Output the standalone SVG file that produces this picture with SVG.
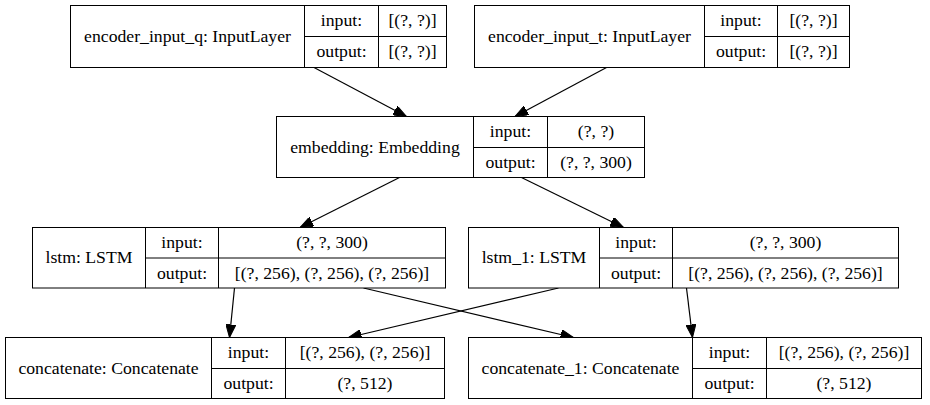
<svg xmlns="http://www.w3.org/2000/svg" width="930" height="405" viewBox="0 0 930 405">
<style>
  .box { fill: #ffffff; stroke: #000000; stroke-width: 1; }
  .ln { fill: none; stroke: #000000; stroke-width: 1; }
  text { font-size: 17.7px; fill: #000000; text-anchor: middle; }
  .edge { fill: none; stroke: #000000; stroke-width: 1.2; marker-end: url(#arrow); }
</style>
<defs>
  <marker id="arrow" markerUnits="userSpaceOnUse" markerWidth="13" markerHeight="10" refX="13" refY="5" orient="auto">
    <path d="M0,0 L13,5 L0,10 z" fill="#000000" stroke="#000000" stroke-width="1"/>
  </marker>
</defs>
<rect width="930" height="405" fill="#ffffff"/>

<g id="connectors">
  <line class="edge" x1="314" y1="67.5" x2="406.5" y2="116.5"/>
  <line class="edge" x1="606.5" y1="67.5" x2="515" y2="116.5"/>
  <line class="edge" x1="399.5" y1="177.5" x2="300" y2="227.5"/>
  <line class="edge" x1="521.5" y1="177.5" x2="623.5" y2="227.5"/>
  <line class="edge" x1="234.5" y1="288" x2="229.5" y2="337.5"/>
  <line class="edge" x1="363.5" y1="288" x2="573.5" y2="337.5"/>
  <line class="edge" x1="558.5" y1="288" x2="348.5" y2="337.5"/>
  <line class="edge" x1="686.5" y1="288" x2="692.5" y2="337.5"/>
</g>

<g font-family="'Liberation Serif', 'DejaVu Serif', serif">
<g id="encoder_input_q">
  <rect class="box" x="70.5" y="5.5" width="376" height="62"/>
  <path class="ln" d="M304.5,5.5 V67.5 M378.5,5.5 V67.5 M304.5,36.5 H446.5"/>
  <text x="187.5" y="41.5">encoder_input_q: InputLayer</text>
  <text x="341.5" y="26">input:</text>
  <text x="412.5" y="26">[(?, ?)]</text>
  <text x="341.5" y="57">output:</text>
  <text x="412.5" y="57">[(?, ?)]</text>
</g>

<g id="encoder_input_t">
  <rect class="box" x="474.5" y="5.5" width="375" height="62"/>
  <path class="ln" d="M704.5,5.5 V67.5 M777.5,5.5 V67.5 M704.5,36.5 H849.5"/>
  <text x="589.5" y="41.5">encoder_input_t: InputLayer</text>
  <text x="741" y="26">input:</text>
  <text x="813.5" y="26">[(?, ?)]</text>
  <text x="741" y="57">output:</text>
  <text x="813.5" y="57">[(?, ?)]</text>
</g>

<g id="embedding">
  <rect class="box" x="276.5" y="116.5" width="368" height="61"/>
  <path class="ln" d="M473.5,116.5 V177.5 M547.5,116.5 V177.5 M473.5,147.5 H644.5"/>
  <text x="375" y="152.5">embedding: Embedding</text>
  <text x="510.5" y="137">input:</text>
  <text x="596" y="137">(?, ?)</text>
  <text x="510.5" y="168">output:</text>
  <text x="596" y="168">(?, ?, 300)</text>
</g>

<g id="lstm">
  <rect class="box" x="32.5" y="227.5" width="413" height="60.5"/>
  <path class="ln" d="M145.5,227.5 V288 M218.5,227.5 V288 M145.5,258 H445.5"/>
  <text x="89" y="263">lstm: LSTM</text>
  <text x="182" y="248">input:</text>
  <text x="332" y="248">(?, ?, 300)</text>
  <text x="182" y="278.5">output:</text>
  <text x="332" y="278.5">[(?, 256), (?, 256), (?, 256)]</text>
</g>

<g id="lstm_1">
  <rect class="box" x="468.5" y="227.5" width="430" height="60.5"/>
  <path class="ln" d="M599.5,227.5 V288 M672.5,227.5 V288 M599.5,258 H898.5"/>
  <text x="534" y="263">lstm_1: LSTM</text>
  <text x="636" y="248">input:</text>
  <text x="785.5" y="248">(?, ?, 300)</text>
  <text x="636" y="278.5">output:</text>
  <text x="785.5" y="278.5">[(?, 256), (?, 256), (?, 256)]</text>
</g>

<g id="concatenate">
  <rect class="box" x="5.5" y="337.5" width="439" height="61"/>
  <path class="ln" d="M211.5,337.5 V398.5 M285.5,337.5 V398.5 M211.5,368.5 H444.5"/>
  <text x="108.5" y="373.5">concatenate: Concatenate</text>
  <text x="248.5" y="358">input:</text>
  <text x="365" y="358">[(?, 256), (?, 256)]</text>
  <text x="248.5" y="389">output:</text>
  <text x="365" y="389">(?, 512)</text>
</g>

<g id="concatenate_1">
  <rect class="box" x="468.5" y="337.5" width="453" height="61"/>
  <path class="ln" d="M692.5,337.5 V398.5 M766.5,337.5 V398.5 M692.5,368.5 H921.5"/>
  <text x="580.5" y="373.5">concatenate_1: Concatenate</text>
  <text x="729.5" y="358">input:</text>
  <text x="844" y="358">[(?, 256), (?, 256)]</text>
  <text x="729.5" y="389">output:</text>
  <text x="844" y="389">(?, 512)</text>
</g>
</g>
</svg>
